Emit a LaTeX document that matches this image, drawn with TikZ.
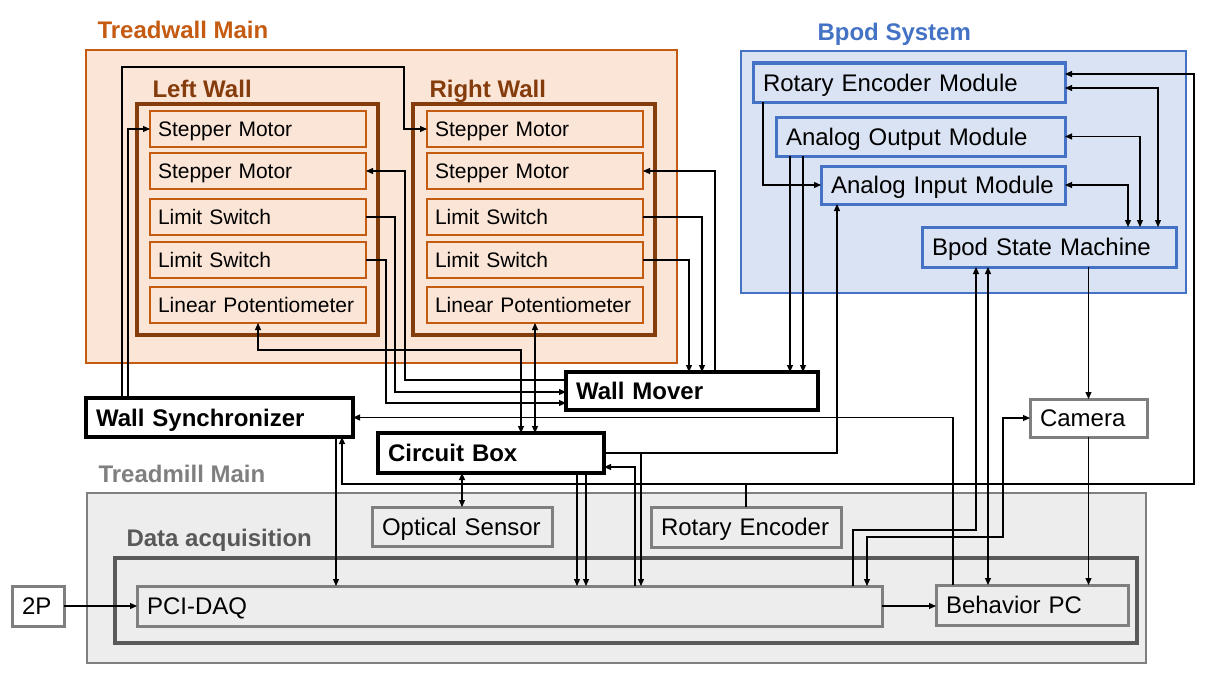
\documentclass[tikz,border=0pt]{standalone}
\usepackage{fontspec}
\setmainfont{Liberation Sans}
\usetikzlibrary{arrows.meta}

\definecolor{twfill}{HTML}{FBE5D6}
\definecolor{twline}{HTML}{C55A11}
\definecolor{wallline}{HTML}{843C0C}
\definecolor{bpfill}{HTML}{DAE3F3}
\definecolor{bpline}{HTML}{4472C4}
\definecolor{tmfill}{HTML}{EDEDED}
\definecolor{tmline}{HTML}{7F7F7F}
\definecolor{daqline}{HTML}{595959}

\tikzset{
  groupbox/.style={draw, anchor=north west, inner sep=0pt, outer sep=0pt, line width=2.5pt},
  grouptitle/.style={anchor=base west, inner sep=0pt, font=\fontsize{24}{28}\selectfont\bfseries},
  unit/.style={draw, anchor=north west, align=left, inner xsep=10pt, inner ysep=0pt, outer sep=0pt, line width=3pt,
    text height=20.6pt, text depth=3.4pt, font=\fontsize{24}{28}\selectfont},
  wallpart/.style={unit, draw=twline, line width=2.7pt, inner xsep=8pt, text width=200pt,
    minimum height=36pt, text height=18pt, text depth=3pt, font=\fontsize{21}{25}\selectfont},
  bpodpart/.style={unit, draw=bpline, fill=bpfill},
  mainbox/.style={unit, draw=black, fill=white, line width=3.5pt, font=\fontsize{24}{28}\selectfont\bfseries},
  greybox/.style={unit, draw=tmline, fill=tmfill}
}

\begin{document}
\begin{tikzpicture}[x=1pt, y=-1pt, line width=1.1pt, >={Triangle[length=7pt,width=6pt]}]
  \useasboundingbox (0,0) rectangle (1217,677);

  % groups
  \node[groupbox, draw=twline, fill=twfill, minimum width=591pt, minimum height=313pt] (tw) at (86,50) {};
  \node[groupbox, draw=wallline, line width=4pt, minimum width=241pt, minimum height=231pt] (lw) at (137,104) {};
  \node[groupbox, draw=wallline, line width=4pt, minimum width=242pt, minimum height=231pt] (rw) at (413,104) {};
  \node[groupbox, draw=bpline, fill=bpfill, minimum width=445pt, minimum height=242pt] (bpod) at (741,51) {};
  \node[groupbox, draw=tmline, fill=tmfill, minimum width=1059pt, minimum height=170pt] (tm) at (87,493) {};
  \node[groupbox, draw=daqline, line width=4pt, minimum width=1022pt, minimum height=85pt] (daq) at (115,558) {};

  \node[grouptitle, text=twline] (twtitle) at (97,38) {Treadwall Main};
  \node[grouptitle, text=wallline] (lwtitle) at (152,97) {Left Wall};
  \node[grouptitle, text=wallline] (rwtitle) at (429,97) {Right Wall};
  \node[grouptitle, text=bpline] (bptitle) at (817,41) {Bpod System};
  \node[grouptitle, text=tmline] (tmtitle) at (98,482) {Treadmill Main};
  \node[grouptitle, text=daqline] (daqtitle) at (126,546) {Data acquisition};

  % walls
  \node[wallpart] (lsm1) at (150,111) {Stepper Motor};
  \node[wallpart] (lsm2) at (150,153) {Stepper Motor};
  \node[wallpart] (lls1) at (150,199) {Limit Switch};
  \node[wallpart] (lls2) at (150,242) {Limit Switch};
  \node[wallpart] (llp) at (150,287) {Linear Potentiometer};
  \node[wallpart] (rsm1) at (427,111) {Stepper Motor};
  \node[wallpart] (rsm2) at (427,153) {Stepper Motor};
  \node[wallpart] (rls1) at (427,199) {Limit Switch};
  \node[wallpart] (rls2) at (427,242) {Limit Switch};
  \node[wallpart] (rlp) at (427,287) {Linear Potentiometer};

  % bpod
  \node[bpodpart, text width=292pt, minimum height=39pt] (rem) at (753,63) {Rotary Encoder Module};
  \node[bpodpart, text width=269pt, minimum height=39pt] (aom) at (776,117) {Analog Output Module};
  \node[bpodpart, text width=224pt, minimum height=38pt] (aim) at (821,166) {Analog Input Module};
  \node[bpodpart, text width=234pt, minimum height=40pt] (sm) at (922,227) {Bpod State Machine};

  \node[mainbox, text width=232pt, minimum height=38pt] (wm) at (566,372) {Wall Mover};
  \node[mainbox, text width=247pt, minimum height=39pt] (ws) at (86,398) {Wall Synchronizer};
  \node[mainbox, text width=206pt, minimum height=40pt] (cb) at (378,433) {Circuit Box};

  % treadmill
  \node[greybox, fill=white, text width=97pt, minimum height=38pt] (cam) at (1030,399) {Camera};
  \node[greybox, text width=160pt, minimum height=39pt] (os) at (372,507) {Optical Sensor};
  \node[greybox, text width=170pt, minimum height=40pt] (re) at (651,507) {Rotary Encoder};
  \node[greybox, text width=725pt, minimum height=40pt] (pci) at (137,586) {PCI-DAQ};
  \node[greybox, text width=172pt, minimum height=40pt] (bpc) at (936,585) {Behavior PC};
  \node[greybox, fill=white, text width=32pt, minimum height=40pt] (tp) at (12,586) {2P};

  % wall lines
  \draw[->] (ws.north -| 122,0) |- (404,67) |- (rsm1.west);
  \draw[->] (ws.north -| 128,0) |- (lsm1.west);
  \draw[->] (wm.west |- 0,380) -| (lsm2.east -| 405,0) -- (lsm2.east);
  \draw[->] (lls1.east) -| (395,392) -- (wm.west |- 0,392);
  \draw[->] (lls2.east) -| (386,403) -- (wm.west |- 0,403);
  \draw[<->] (llp.south) |- (521,350) -- (cb.north -| 521,0);
  \draw[<->] (rlp.south) -- (cb.north -| rlp.south);
  \draw[->] (wm.north -| 715,0) |- (rsm2.east);
  \draw[->] (rls1.east) -| (wm.north -| 702,0);
  \draw[->] (rls2.east) -| (wm.north -| 689,0);

  % bpod lines
  \draw[->] (aom.south -| 790,0) -- (wm.north -| 790,0);
  \draw[->] (aom.south -| 803,0) -- (wm.north -| 803,0);
  \draw[->] (rem.south -| 763,0) |- (aim.west);
  \draw[<->] (rem.east |- 0,88) -| (sm.north -| 1158,0);
  \draw[<->] (aom.east) -| (sm.north -| 1140,0);
  \draw[<->] (aim.east) -| (sm.north -| 1128,0);
  \draw[->] (cam.north |- sm.south) -- (cam.north);

  % circuit box lines
  \draw[->] (cb.east |- 0,453) -| (aim.south -| 837,0);
  \draw[->] (cb.east |- 0,453) -| (pci.north -| 641,0);
  \draw[->] (pci.north -| 635,0) |- (cb.east |- 0,467);
  \draw[->] (cb.south -| 577,0) -- (pci.north -| 577,0);
  \draw[->] (cb.south -| 586,0) -- (pci.north -| 586,0);
  \draw[<->] (os.north) -- (cb.south -| os.north);

  % treadmill lines
  \draw[->] (ws.south -| 336,0) -- (pci.north -| 336,0);
  \draw[->] (re.north) |- (342,484) -- (ws.south -| 342,0);
  \draw[->] (re.north) |- (1194,484) |- (rem.east |- 0,74);
  \draw[->] (bpc.north -| 953,0) |- (ws.east);
  \draw[->] (pci.north -| 853,0) |- (976,530) -- (sm.south -| 976,0);
  \draw[<->] (cam.west) -| (1003,537) -| (pci.north -| 867,0);
  \draw[<->] (sm.south -| 988,0) -- (bpc.north -| 988,0);
  \draw[->] (cam.south) -- (bpc.north -| cam.south);
  \draw[->] (tp.east) -- (pci.west);
  \draw[->] (pci.east) -- (bpc.west |- pci.east);
\end{tikzpicture}
\end{document}
